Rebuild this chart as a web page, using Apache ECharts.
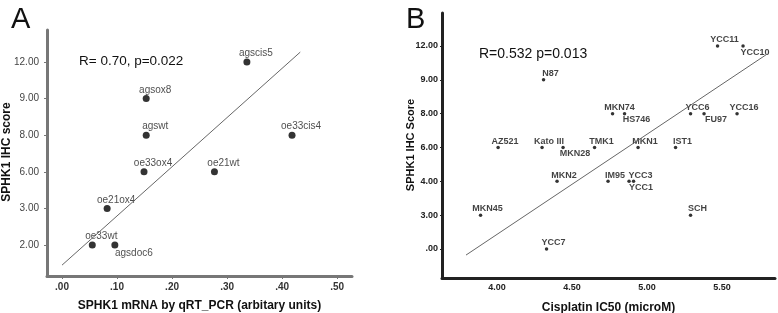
<!DOCTYPE html>
<html>
<head>
<meta charset="utf-8">
<script src="https://cdn.jsdelivr.net/npm/echarts@6/dist/echarts.min.js"></script>
<style>
  html, body { margin: 0; padding: 0; background: #fff; }
  #chart { width: 778px; height: 313px; }
</style>
</head>
<body>
<div id="chart"></div>
<script>
// Panel A: SPHK1 mRNA vs IHC score (y axis is ordinal, evenly spaced levels)
var levelsA = [2, 3, 6, 8, 9, 12];
var namesA = ['agscis5', 'agsox8', 'agswt', 'oe33ox4', 'oe33cis4', 'oe21wt', 'oe21ox4', 'oe33wt', 'agsdoc6'];
var mrnaA = [0.336, 0.153, 0.153, 0.149, 0.418, 0.277, 0.082, 0.055, 0.096];
var ihcA = [12, 9, 8, 6, 8, 6, 3, 2, 2];
var belowA = ['agsdoc6'];
var xTicksA = [0, 0.1, 0.2, 0.3, 0.4, 0.5];
var fitA = [[0, -0.55], [0.433, 5.27]]; // [x, level position]

// Panel B: Cisplatin IC50 vs IHC score
var levelsB = [0, 3, 4, 6, 8, 9, 12];
var namesB = ['AZ521', 'Kato III', 'MKN28', 'N87', 'MKN74', 'HS746', 'TMK1', 'MKN1', 'IST1', 'YCC6', 'FU97',
  'YCC16', 'YCC11', 'YCC10', 'MKN2', 'IM95', 'YCC1', 'YCC3', 'MKN45', 'SCH', 'YCC7'];
var ic50B = [4.007, 4.30, 4.44, 4.31, 4.77, 4.85, 4.65, 4.94, 5.19, 5.29, 5.38,
  5.60, 5.47, 5.64, 4.40, 4.74, 4.88, 4.91, 3.89, 5.29, 4.33];
var ihcB = [6, 6, 6, 9, 8, 8, 6, 6, 6, 8, 8,
  8, 12, 12, 4, 4, 4, 4, 3, 3, 0];
var belowB = ['MKN28', 'HS746', 'FU97', 'YCC10', 'YCC1'];
var xTicksB = [4.0, 4.5, 5.0, 5.5];
var fitB = [[3.793, -0.18], [5.80, 5.76]];

var FONT = '"Liberation Sans", Arial, sans-serif';

function fmtTick(v) {
  // SPSS style: no leading zero
  var s = v.toFixed(2);
  return s.indexOf('0.') === 0 ? s.substring(1) : s;
}

function buildPoints(names, xs, ys, levels, below, belowOffset, topOffset) {
  return names.map(function (n, i) {
    var item = { name: n, value: [xs[i], levels.indexOf(ys[i])] };
    if (below.indexOf(n) >= 0) {
      item.label = { position: 'bottom', distance: 0, offset: belowOffset };
    } else {
      item.label = { position: 'top', distance: 0, offset: topOffset };
    }
    return item;
  });
}

var chart = echarts.init(document.getElementById('chart'));

var option = {
  animation: false,
  textStyle: { fontFamily: FONT },
  title: [
    { text: 'A', left: 6, top: 0, textStyle: { fontFamily: FONT, fontSize: 29, fontWeight: 'normal', color: '#111' } },
    { text: 'R= 0.70, p=0.022', left: 74, top: 49, textStyle: { fontFamily: FONT, fontSize: 13.5, fontWeight: 'normal', color: '#111' } },
    { text: 'B', left: 401, top: 0, textStyle: { fontFamily: FONT, fontSize: 29, fontWeight: 'normal', color: '#111' } },
    { text: 'R=0.532 p=0.013', left: 474, top: 42, textStyle: { fontFamily: FONT, fontSize: 14, fontWeight: 'normal', color: '#111' } }
  ],
  graphic: [
    {
      type: 'text', x: 1, y: 152, rotation: Math.PI / 2,
      style: { text: 'SPHK1 IHC score', font: 'bold 12px ' + FONT, fill: '#111', align: 'center', verticalAlign: 'top' }
    },
    {
      type: 'text', x: 405, y: 145, rotation: Math.PI / 2,
      style: { text: 'SPHK1 IHC Score', font: 'bold 11px ' + FONT, fill: '#111', align: 'center', verticalAlign: 'top' }
    }
  ],
  grid: [
    { left: 47, right: 426, top: 30, bottom: 37, outerBoundsMode: 'none' },
    { left: 442, right: 3, top: 13, bottom: 35, outerBoundsMode: 'none' }
  ],
  xAxis: [
    {
      gridIndex: 0, type: 'value', min: -0.0273, max: 0.527,
      name: 'SPHK1 mRNA by qRT_PCR (arbitary units)', nameLocation: 'middle', nameGap: 24,
      nameTextStyle: { fontFamily: FONT, fontSize: 12, fontWeight: 'bold', color: '#111' },
      axisLine: { onZero: false, lineStyle: { color: '#777', width: 3 } },
      axisTick: { customValues: xTicksA, length: 3, lineStyle: { color: '#777' } },
      axisLabel: { customValues: xTicksA, formatter: fmtTick, fontSize: 10, fontWeight: 'bold', color: '#333', margin: 6 },
      splitLine: { show: false }
    },
    {
      gridIndex: 1, type: 'value', min: 3.633, max: 5.853,
      name: 'Cisplatin IC50 (microM)', nameLocation: 'middle', nameGap: 24,
      nameTextStyle: { fontFamily: FONT, fontSize: 12, fontWeight: 'bold', color: '#111' },
      axisLine: { onZero: false, lineStyle: { color: '#222', width: 3 } },
      axisTick: { customValues: xTicksB, length: 2, lineStyle: { color: '#222' } },
      axisLabel: { customValues: xTicksB, formatter: fmtTick, fontSize: 9, fontWeight: 'bold', color: '#222', margin: 5 },
      splitLine: { show: false }
    }
  ],
  yAxis: [
    {
      gridIndex: 0, type: 'value', min: -0.847, max: 5.874,
      axisLine: { show: true, onZero: false, lineStyle: { color: '#777', width: 3 } },
      axisTick: { show: true, customValues: levelsA.map(function (v, i) { return i; }), length: 3, lineStyle: { color: '#777' } },
      axisLabel: {
        customValues: levelsA.map(function (v, i) { return i; }),
        formatter: function (v) { return fmtTick(levelsA[Math.round(v)]); },
        fontSize: 10, color: '#444', margin: 8
      },
      splitLine: { show: false }
    },
    {
      gridIndex: 1, type: 'value', min: -0.858, max: 6.976,
      axisLine: { show: true, onZero: false, lineStyle: { color: '#222', width: 3 } },
      axisTick: { show: true, customValues: levelsB.map(function (v, i) { return i; }), length: 2, lineStyle: { color: '#222' } },
      axisLabel: {
        customValues: levelsB.map(function (v, i) { return i; }),
        formatter: function (v) { return fmtTick(levelsB[Math.round(v)]); },
        fontSize: 9, fontWeight: 'bold', color: '#222', margin: 4
      },
      splitLine: { show: false }
    }
  ],
  series: [
    {
      type: 'line', xAxisIndex: 0, yAxisIndex: 0, data: fitA, symbol: 'none', silent: true,
      lineStyle: { color: '#666', width: 1 }
    },
    {
      type: 'scatter', xAxisIndex: 0, yAxisIndex: 0, symbolSize: 7,
      itemStyle: { color: '#000' },
      label: { show: true, formatter: '{b}', fontSize: 10, color: '#222', fontFamily: FONT },
      data: buildPoints(namesA, mrnaA, ihcA, levelsA, belowA, [19, 0], [9, 0])
    },
    {
      type: 'line', xAxisIndex: 1, yAxisIndex: 1, data: fitB, symbol: 'none', silent: true,
      lineStyle: { color: '#666', width: 1 }
    },
    {
      type: 'scatter', xAxisIndex: 1, yAxisIndex: 1, symbolSize: 3.5,
      itemStyle: { color: '#000' },
      label: { show: true, formatter: '{b}', fontSize: 9, fontWeight: 'bold', color: '#111', fontFamily: FONT },
      data: buildPoints(namesB, ic50B, ihcB, levelsB, belowB, [12, 0], [7, 0])
    }
  ]
};

chart.setOption(option);
</script>
</body>
</html>
